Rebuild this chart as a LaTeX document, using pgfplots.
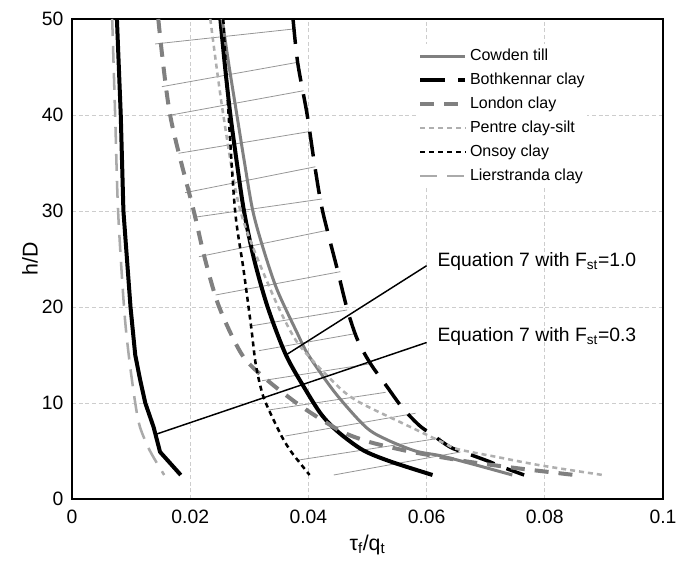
\documentclass[border=0pt]{standalone}
\usepackage{fontspec}
\setmainfont{Liberation Sans}
\usepackage{pgfplots}
\pgfplotsset{compat=1.18}
\definecolor{cgray}{RGB}{128,128,128}
\definecolor{lgray}{RGB}{175,175,175}
\definecolor{lgray2}{RGB}{170,170,170}
\definecolor{hgray}{RGB}{150,150,150}
\definecolor{ggray}{RGB}{205,205,205}
\begin{document}
\begin{tikzpicture}
\begin{axis}[
  scale only axis, width=443.25pt, height=360pt,
  xmin=0, xmax=0.1, ymin=0, ymax=50,
  xtick={0,0.02,0.04,0.06,0.08,0.1},
  xticklabels={0,0.02,0.04,0.06,0.08,0.1},
  ytick={0,10,20,30,40,50},
  /pgf/number format/assume math mode=true,
  ticklabel style={font=\fontsize{14.5}{17}\selectfont},
  xticklabel style={yshift=-5pt},
  yticklabel style={xshift=-3pt},
  major tick length=0pt,
  grid=major,
  major grid style={color=ggray, line width=0.5pt, dash pattern=on 3pt off 2pt},
  axis line style={black, line width=1.6pt},
  legend style={at={(axis cs:0.0585,47.4)}, anchor=north west, draw=none, fill=white,
    inner sep=0pt, font=\fontsize{12}{14}\selectfont,
    nodes={text height=9pt, text depth=3pt, inner ysep=3pt, inner xsep=2pt}},
  legend cell align=left,
  legend image code/.code={\draw[#1] (0pt,0pt) -- (34pt,0pt);},
]
% hatch lines
\pgfplotsset{hatch/.style={hgray, line width=0.6pt, forget plot}}
\addplot[hatch] coordinates {(0.01407,47.40) (0.03751,48.96)};
\addplot[hatch] coordinates {(0.01520,42.95) (0.03819,45.49)};
\addplot[hatch] coordinates {(0.01615,39.93) (0.03920,42.53)};
\addplot[hatch] coordinates {(0.01802,36.01) (0.04005,38.26)};
\addplot[hatch] coordinates {(0.01915,31.91) (0.04119,34.61)};
\addplot[hatch] coordinates {(0.02063,29.34) (0.04232,31.25)};
\addplot[hatch] coordinates {(0.02147,25.24) (0.04344,28.02)};
\addplot[hatch] coordinates {(0.02429,21.25) (0.04542,23.68)};
\addplot[hatch] coordinates {(0.03022,18.02) (0.04656,19.69)};
\addplot[hatch] coordinates {(0.03164,15.45) (0.04825,17.26)};
\addplot[hatch] coordinates {(0.03215,12.32) (0.05022,14.06)};
\addplot[hatch] coordinates {(0.03327,9.27) (0.05305,11.11)};
\addplot[hatch] coordinates {(0.03610,6.56) (0.05814,8.93)};
\addplot[hatch] coordinates {(0.03836,4.06) (0.06237,6.35)};
\addplot[hatch] coordinates {(0.04429,2.50) (0.06576,4.90)};
% Equation 7 curves
\addplot[black, line width=3pt, forget plot] coordinates {
 (0.0076,50) (0.00825,40) (0.0087,30) (0.0099,20) (0.0107,15) (0.0115,12.5)
 (0.0124,10) (0.0138,7.5) (0.0149,4.9) (0.0184,2.5)};
\addplot[black, line width=3pt, forget plot, smooth, tension=0.5] coordinates {
 (0.0251,50) (0.0259,45) (0.0268,40) (0.0279,35) (0.0291,30) (0.0308,25)
 (0.0331,20) (0.0362,15) (0.0395,11.4) (0.0422,8.8) (0.0450,7.0) (0.0492,5.1)
 (0.0539,3.9) (0.0610,2.5)};
% clays
\addplot[cgray, line width=2.25pt, smooth, tension=0.5] coordinates {
 (0.0254,50) (0.0266,45) (0.0279,40) (0.0292,35) (0.0306,30) (0.0324,26) (0.0347,21.8) (0.0381,17.3)
 (0.0400,15) (0.0446,11) (0.0497,7.5) (0.0532,6.2) (0.0581,5.0) (0.0624,4.5)
 (0.0680,3.6) (0.0745,2.5)};
\addlegendentry{Cowden till}
\addplot[black, line width=2.6pt, dash pattern=on 18.75pt off 9.75pt, smooth, tension=0.5] coordinates {
 (0.0374,50) (0.0382,45.4) (0.0398,40) (0.0411,34.6) (0.0424,30) (0.0449,23.9)
 (0.0466,19.7) (0.0483,16.6) (0.0505,14.1) (0.0533,11.7) (0.0559,9.5) (0.0587,7.7)
 (0.0607,6.8) (0.0640,5.4) (0.0666,4.8) (0.0706,3.9) (0.0725,3.4) (0.0765,2.5)};
\addlegendentry{Bothkennar clay}
\addplot[cgray, line width=3pt, dash pattern=on 10.5pt off 7.5pt, smooth, tension=0.5] coordinates {
 (0.0146,50) (0.0166,40) (0.0206,30) (0.0225,25) (0.0249,20) (0.0288,15)
 (0.0330,12.4) (0.0389,9.6) (0.0454,7.1) (0.0500,6.0) (0.0545,5.3) (0.0584,4.8)
 (0.0669,3.9) (0.0754,3.2) (0.0850,2.5)};
\addlegendentry{London clay}
\addplot[lgray, line width=1.9pt, dash pattern=on 3.75pt off 3pt, smooth, tension=0.5] coordinates {
 (0.0234,50) (0.0256,40) (0.0285,30) (0.0336,21.8) (0.0375,16.9) (0.0406,14.5)
 (0.0454,11.5) (0.0480,10.3) (0.0511,9.3) (0.0559,7.9) (0.0627,5.9) (0.0652,5.2)
 (0.0717,4.4) (0.0793,3.5) (0.0898,2.5)};
\addlegendentry{Pentre clay-silt}
\addplot[black, line width=1.9pt, dash pattern=on 3.75pt off 3pt, smooth, tension=0.5] coordinates {
 (0.0256,50) (0.0265,40) (0.0276,30) (0.0290,24) (0.0303,18) (0.0311,14)
 (0.0322,11) (0.0333,9.3) (0.0355,6.5) (0.0370,5.0) (0.0385,3.8) (0.0402,2.5)};
\addlegendentry{Onsoy clay}
\addplot[lgray2, line width=1.9pt, dash pattern=on 12.75pt off 7.5pt, smooth, tension=0.5] coordinates {
 (0.0068,50) (0.0073,40) (0.0078,30) (0.0088,20) (0.0096,15) (0.0107,10)
 (0.0115,7.5) (0.0132,5) (0.0156,2.5)};
\addlegendentry{Lierstranda clay}
% annotation leaders
\addplot[black, line width=1.1pt, forget plot] coordinates {(0.0362,15.0) (0.0600,24.3)};
\addplot[black, line width=1.1pt, forget plot] coordinates {(0.0142,6.74) (0.0600,16.3)};
\node[anchor=west, font=\fontsize{14.5}{17}\selectfont, inner sep=0pt] at (axis cs:0.0618,24.7) {Equation 7 with F\textsubscript{st}=1.0};
\node[anchor=west, font=\fontsize{14.5}{17}\selectfont, inner sep=0pt] at (axis cs:0.0618,16.9) {Equation 7 with F\textsubscript{st}=0.3};
\end{axis}
\node[rotate=90, font=\fontsize{16}{18}\selectfont] at ([xshift=-31.5pt]current axis.west) {h/D};
\node[font=\fontsize{16}{18}\selectfont] at ([yshift=-34.5pt]current axis.south) {τ\textsubscript{f}/q\textsubscript{t}};
\pgfresetboundingbox
\path ([shift={(-54pt,-49.5pt)}]current axis.south west) rectangle ([shift={(9.75pt,14.25pt)}]current axis.north east);
\end{tikzpicture}
\end{document}
